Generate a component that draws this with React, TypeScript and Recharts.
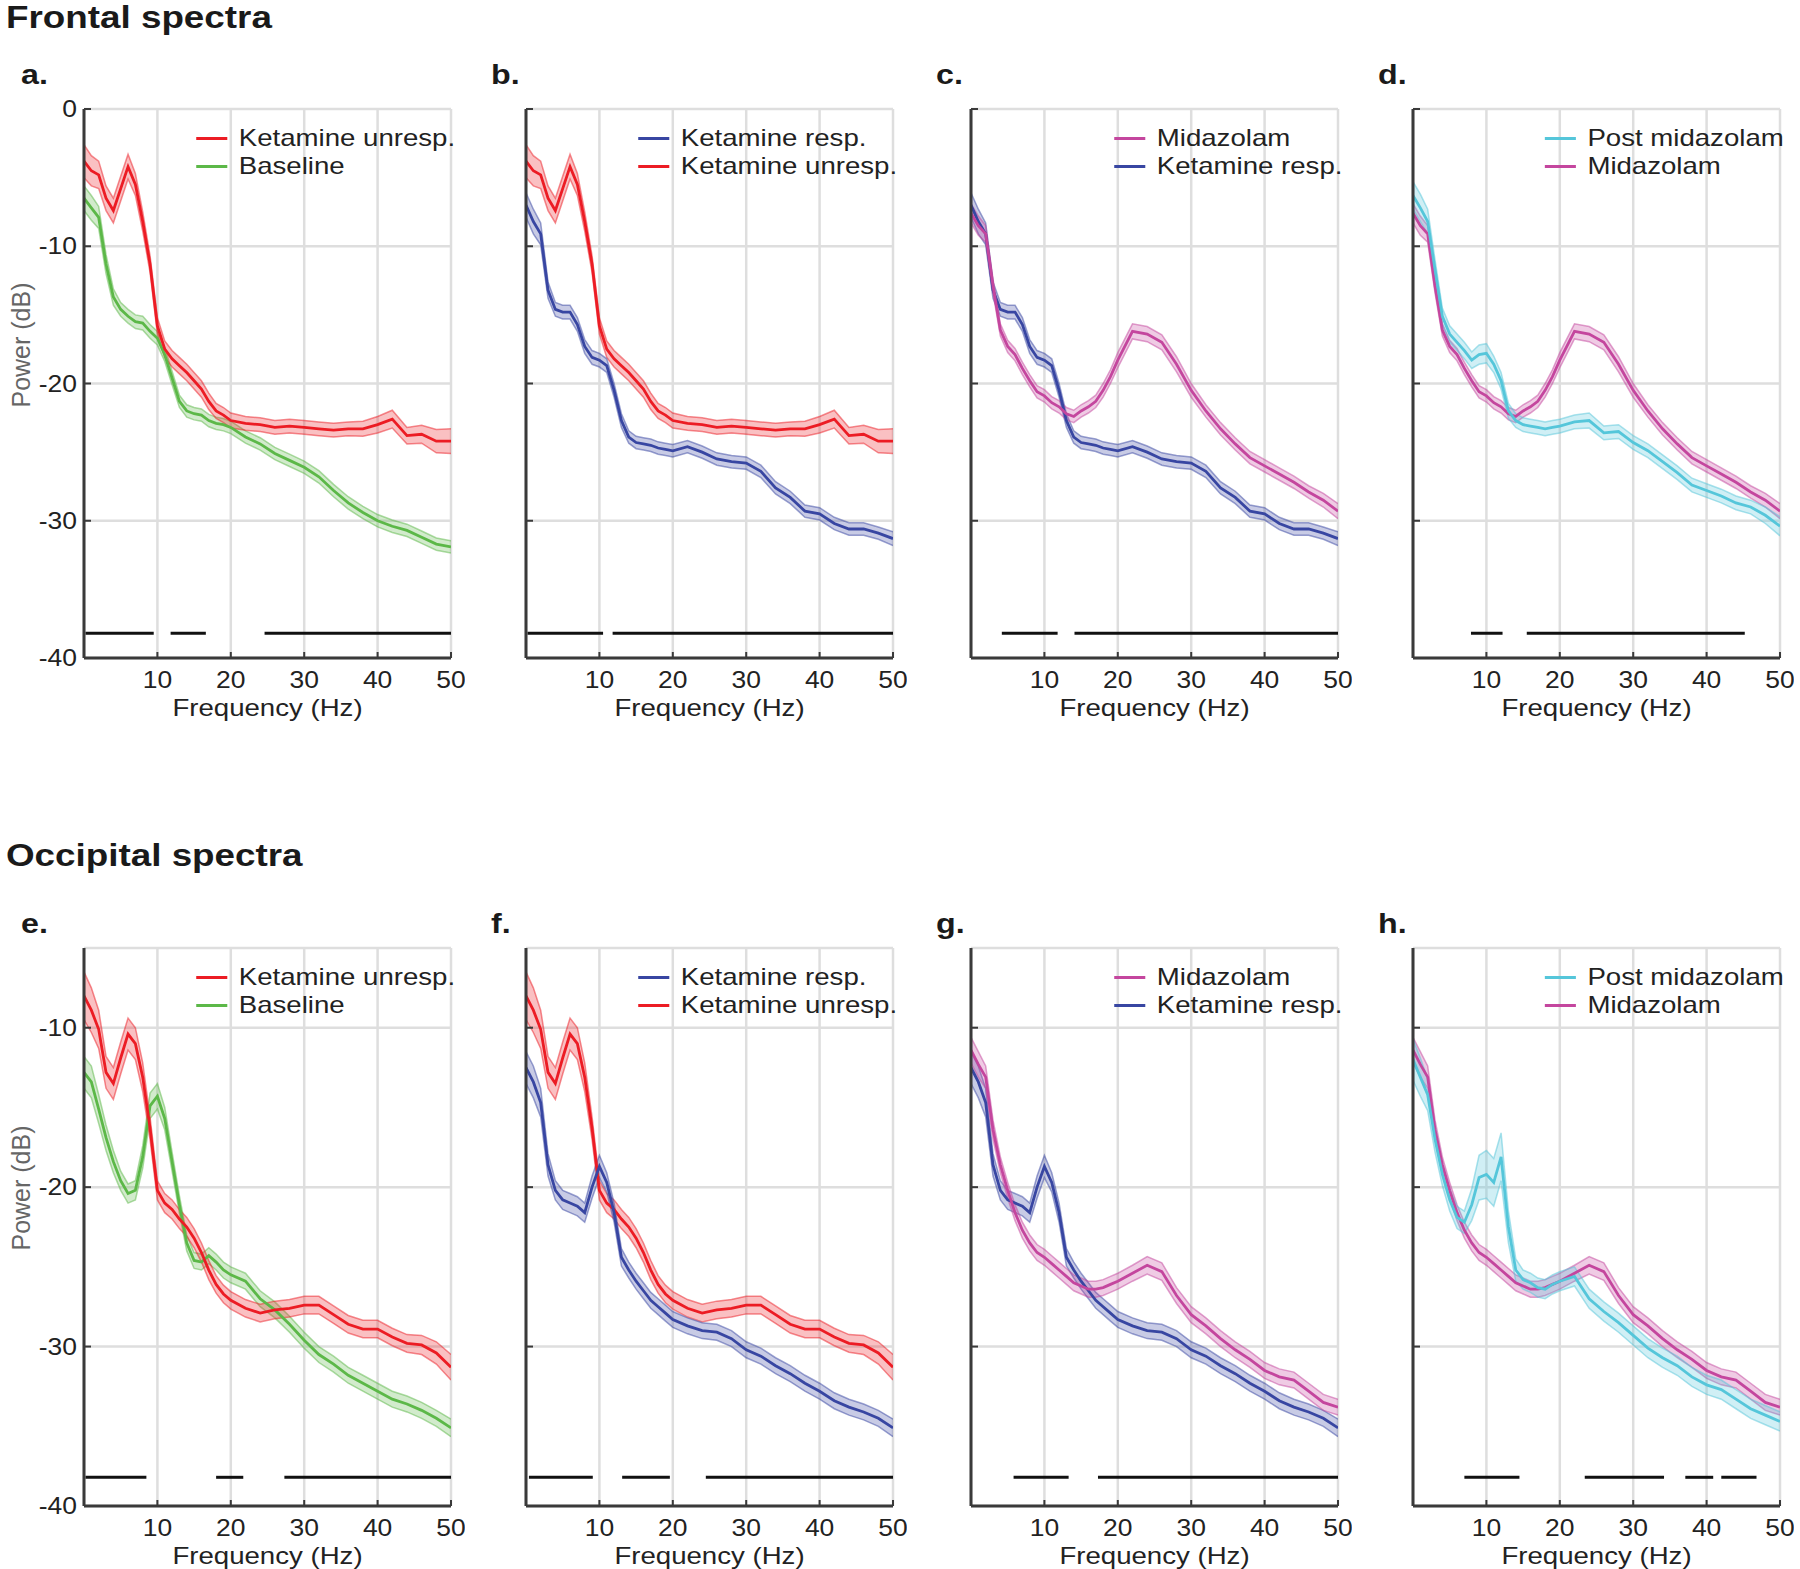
import React from 'react';
import { ComposedChart, Line, Area, XAxis, YAxis, CartesianGrid, ReferenceLine } from 'recharts';

// frequency grid (Hz)
const FREQS = [0, 1, 2, 3, 4, 5, 6, 7, 8, 9, 10, 11, 12, 13, 14, 15, 16, 17, 18, 19, 20,
  22, 24, 26, 28, 30, 32, 34, 36, 38, 40, 42, 44, 46, 48, 50];

// Frontal spectra, mean power (dB)
const FR_KET_UNRESP = [-3.8, -4.5, -4.8, -6.5, -7.4, -5.8, -4.2, -5.5, -8.2, -11.3, -15.8, -17.5, -18.2, -18.7, -19.2, -19.8, -20.4, -21.3, -22.0, -22.3, -22.7,
  -22.9, -23.0, -23.2, -23.1, -23.2, -23.3, -23.4, -23.3, -23.3, -23.0, -22.6, -23.8, -23.7, -24.2, -24.2];
const FR_BASELINE = [-6.5, -7.2, -7.9, -11.3, -13.7, -14.6, -15.1, -15.5, -15.6, -16.2, -16.7, -17.9, -19.6, -21.3, -22.0, -22.2, -22.3, -22.7, -22.9, -23.0, -23.2,
  -23.9, -24.4, -25.1, -25.6, -26.1, -26.8, -27.8, -28.7, -29.4, -30.0, -30.4, -30.7, -31.2, -31.7, -31.9];
const FR_KET_RESP = [-7.0, -8.2, -9.1, -13.2, -14.6, -14.8, -14.8, -15.7, -17.3, -18.1, -18.3, -18.7, -20.5, -22.7, -23.9, -24.3, -24.4, -24.5, -24.7, -24.8, -24.9,
  -24.6, -25.0, -25.5, -25.7, -25.8, -26.4, -27.6, -28.3, -29.3, -29.5, -30.2, -30.6, -30.6, -30.9, -31.3];
const FR_MIDAZ = [-7.6, -8.5, -9.1, -12.9, -16.1, -17.3, -17.9, -18.9, -19.8, -20.6, -20.9, -21.4, -21.7, -22.2, -22.4, -22.0, -21.7, -21.3, -20.5, -19.5, -18.3,
  -16.2, -16.4, -17.0, -18.6, -20.5, -22.0, -23.3, -24.4, -25.4, -26.0, -26.6, -27.2, -27.9, -28.5, -29.3];
const FR_POST_MIDAZ = [-6.3, -7.2, -8.2, -11.7, -15.1, -16.4, -17.0, -17.6, -18.3, -17.9, -17.8, -18.6, -19.8, -22.0, -22.7, -23.0, -23.1, -23.2, -23.3, -23.2, -23.1,
  -22.8, -22.7, -23.6, -23.5, -24.3, -24.9, -25.7, -26.5, -27.4, -27.8, -28.2, -28.7, -29.0, -29.6, -30.4];

// Frontal spectra, SEM (dB)
const FR_KET_UNRESP_SEM = [1.2, 1.1, 1.0, 0.9, 0.9, 0.9, 0.9, 0.8, 0.7, 0.6, 0.6, 0.6, 0.6, 0.6, 0.6, 0.6, 0.6, 0.6, 0.55, 0.55, 0.55,
  0.5, 0.5, 0.5, 0.5, 0.5, 0.5, 0.5, 0.5, 0.55, 0.6, 0.65, 0.6, 0.65, 0.85, 0.9];
const FR_BASELINE_SEM = [0.9, 0.9, 0.8, 0.7, 0.6, 0.5, 0.5, 0.5, 0.5, 0.5, 0.5, 0.5, 0.5, 0.45, 0.45, 0.45, 0.45, 0.45, 0.45, 0.45, 0.45,
  0.45, 0.45, 0.45, 0.45, 0.45, 0.45, 0.45, 0.45, 0.45, 0.45, 0.45, 0.45, 0.45, 0.45, 0.45];
const FR_KET_RESP_SEM = [0.9, 0.9, 0.8, 0.6, 0.5, 0.5, 0.5, 0.5, 0.5, 0.5, 0.5, 0.5, 0.5, 0.5, 0.45, 0.45, 0.45, 0.45, 0.45, 0.45, 0.45,
  0.45, 0.45, 0.45, 0.45, 0.45, 0.45, 0.45, 0.45, 0.45, 0.45, 0.45, 0.45, 0.45, 0.45, 0.5];
const FR_MIDAZ_SEM = [0.7, 0.7, 0.6, 0.5, 0.45, 0.45, 0.45, 0.45, 0.45, 0.45, 0.45, 0.45, 0.45, 0.45, 0.45, 0.45, 0.45, 0.45, 0.5, 0.5, 0.55,
  0.55, 0.55, 0.55, 0.55, 0.5, 0.45, 0.45, 0.45, 0.45, 0.45, 0.45, 0.45, 0.45, 0.5, 0.55];
const FR_POST_MIDAZ_SEM = [1.0, 1.0, 0.9, 0.7, 0.6, 0.6, 0.6, 0.6, 0.6, 0.7, 0.7, 0.6, 0.6, 0.55, 0.5, 0.5, 0.5, 0.5, 0.5, 0.5, 0.5,
  0.5, 0.55, 0.5, 0.5, 0.5, 0.5, 0.5, 0.5, 0.5, 0.5, 0.5, 0.5, 0.5, 0.6, 0.7];

// Occipital spectra, mean power (dB)
const OC_KET_UNRESP = [-8.0, -8.9, -10.1, -12.8, -13.5, -11.9, -10.4, -11.0, -13.1, -16.3, -20.2, -21.0, -21.4, -22.0, -22.5, -23.2, -24.1, -25.2, -26.1, -26.7, -27.1,
  -27.6, -27.9, -27.7, -27.6, -27.4, -27.4, -28.0, -28.6, -28.9, -28.9, -29.4, -29.8, -29.9, -30.4, -31.3];
const OC_BASELINE = [-12.8, -13.4, -15.1, -16.9, -18.4, -19.6, -20.4, -20.2, -18.1, -14.9, -14.3, -15.7, -18.4, -21.1, -23.5, -24.6, -24.7, -24.3, -24.7, -25.2, -25.5,
  -25.9, -27.0, -27.7, -28.6, -29.6, -30.5, -31.1, -31.8, -32.3, -32.8, -33.3, -33.6, -34.0, -34.5, -35.1];
const OC_KET_RESP = [-12.5, -13.4, -14.7, -18.6, -20.2, -20.8, -21.0, -21.2, -21.6, -20.0, -18.7, -19.7, -21.6, -24.4, -25.2, -25.9, -26.5, -27.1, -27.5, -27.9, -28.3,
  -28.7, -29.0, -29.1, -29.5, -30.2, -30.6, -31.2, -31.7, -32.3, -32.8, -33.4, -33.8, -34.1, -34.5, -35.1];
const OC_MIDAZ = [-11.4, -12.3, -13.1, -16.4, -18.6, -20.2, -21.6, -22.7, -23.5, -24.1, -24.4, -24.8, -25.2, -25.6, -26.0, -26.2, -26.4, -26.4, -26.3, -26.1, -25.9,
  -25.4, -24.9, -25.3, -26.8, -28.0, -28.7, -29.5, -30.2, -30.8, -31.5, -31.9, -32.1, -32.8, -33.5, -33.8];
const OC_POST_MIDAZ = [-12.0, -13.1, -14.2, -17.0, -19.2, -20.8, -21.9, -22.2, -21.1, -19.4, -19.2, -19.7, -18.1, -22.5, -25.2, -25.8, -26.0, -26.3, -26.4, -26.1, -25.9,
  -25.6, -27.0, -27.8, -28.5, -29.3, -30.1, -30.7, -31.2, -31.9, -32.4, -32.7, -33.3, -33.9, -34.3, -34.7];

// Occipital spectra, SEM (dB)
const OC_KET_UNRESP_SEM = [1.5, 1.4, 1.2, 1.0, 1.0, 1.0, 1.0, 1.0, 0.9, 0.7, 0.6, 0.6, 0.6, 0.6, 0.6, 0.6, 0.6, 0.6, 0.55, 0.55, 0.55,
  0.55, 0.55, 0.55, 0.55, 0.55, 0.55, 0.55, 0.55, 0.55, 0.55, 0.55, 0.55, 0.6, 0.7, 0.8];
const OC_BASELINE_SEM = [1.0, 1.0, 0.9, 0.8, 0.7, 0.6, 0.6, 0.6, 0.7, 0.8, 0.8, 0.7, 0.6, 0.55, 0.5, 0.5, 0.5, 0.5, 0.5, 0.5, 0.5,
  0.5, 0.5, 0.5, 0.5, 0.5, 0.5, 0.5, 0.5, 0.5, 0.5, 0.5, 0.5, 0.5, 0.5, 0.55];
const OC_KET_RESP_SEM = [1.0, 1.0, 0.9, 0.7, 0.6, 0.6, 0.6, 0.6, 0.6, 0.7, 0.7, 0.6, 0.6, 0.55, 0.5, 0.5, 0.5, 0.5, 0.5, 0.5, 0.5,
  0.5, 0.5, 0.5, 0.5, 0.5, 0.5, 0.5, 0.5, 0.5, 0.5, 0.5, 0.5, 0.5, 0.5, 0.55];
const OC_MIDAZ_SEM = [0.8, 0.8, 0.7, 0.6, 0.5, 0.5, 0.5, 0.5, 0.5, 0.5, 0.5, 0.5, 0.5, 0.5, 0.5, 0.5, 0.5, 0.5, 0.5, 0.5, 0.5,
  0.5, 0.55, 0.55, 0.5, 0.5, 0.5, 0.5, 0.5, 0.5, 0.5, 0.5, 0.5, 0.5, 0.5, 0.5];
const OC_POST_MIDAZ_SEM = [1.3, 1.2, 1.0, 0.8, 0.7, 0.7, 0.7, 0.7, 1.0, 1.4, 1.5, 1.5, 1.5, 1.0, 0.7, 0.6, 0.6, 0.6, 0.6, 0.6, 0.6,
  0.6, 0.6, 0.6, 0.6, 0.6, 0.6, 0.6, 0.6, 0.6, 0.6, 0.6, 0.6, 0.6, 0.6, 0.6];

// significance bars [from Hz, to Hz] per panel
const SIG_A = [[0.2, 9.5], [11.8, 16.6], [24.6, 50]];
const SIG_B = [[0.2, 10.5], [11.8, 50]];
const SIG_C = [[4.2, 11.8], [14.1, 50]];
const SIG_D = [[7.9, 12.2], [15.5, 45.2]];
const SIG_E = [[0.2, 8.5], [18.0, 21.7], [27.3, 50]];
const SIG_F = [[0.4, 9.1], [13.1, 19.6], [24.5, 50]];
const SIG_G = [[5.8, 13.3], [17.3, 50]];
const SIG_H = [[7.0, 14.5], [23.4, 34.2], [37.1, 40.9], [42.0, 46.8]];
const SIG_LEVEL = -38.2;

const X_TICKS = [10, 20, 30, 40, 50];
const Y_TICKS_FRONTAL = [-40, -30, -20, -10, 0];
const Y_TICKS_OCCIPITAL = [-40, -30, -20, -10];

const RED = '#ec1c24';
const GREEN = '#5cb848';
const BLUE = '#3846a2';
const MAGENTA = '#c4469e';
const CYAN = '#55c6da';

type Series = { name: string; color: string; mean: number[]; sem: number[] };

const S = {
  frKU: { name: 'Ketamine unresp.', color: RED, mean: FR_KET_UNRESP, sem: FR_KET_UNRESP_SEM },
  frBL: { name: 'Baseline', color: GREEN, mean: FR_BASELINE, sem: FR_BASELINE_SEM },
  frKR: { name: 'Ketamine resp.', color: BLUE, mean: FR_KET_RESP, sem: FR_KET_RESP_SEM },
  frMZ: { name: 'Midazolam', color: MAGENTA, mean: FR_MIDAZ, sem: FR_MIDAZ_SEM },
  frPM: { name: 'Post midazolam', color: CYAN, mean: FR_POST_MIDAZ, sem: FR_POST_MIDAZ_SEM },
  ocKU: { name: 'Ketamine unresp.', color: RED, mean: OC_KET_UNRESP, sem: OC_KET_UNRESP_SEM },
  ocBL: { name: 'Baseline', color: GREEN, mean: OC_BASELINE, sem: OC_BASELINE_SEM },
  ocKR: { name: 'Ketamine resp.', color: BLUE, mean: OC_KET_RESP, sem: OC_KET_RESP_SEM },
  ocMZ: { name: 'Midazolam', color: MAGENTA, mean: OC_MIDAZ, sem: OC_MIDAZ_SEM },
  ocPM: { name: 'Post midazolam', color: CYAN, mean: OC_POST_MIDAZ, sem: OC_POST_MIDAZ_SEM },
};

const PANELS: { label: string; row: number; col: number; series: Series[]; sig: number[][] }[] = [
  { label: 'a.', row: 0, col: 0, series: [S.frKU, S.frBL], sig: SIG_A },
  { label: 'b.', row: 0, col: 1, series: [S.frKR, S.frKU], sig: SIG_B },
  { label: 'c.', row: 0, col: 2, series: [S.frMZ, S.frKR], sig: SIG_C },
  { label: 'd.', row: 0, col: 3, series: [S.frPM, S.frMZ], sig: SIG_D },
  { label: 'e.', row: 1, col: 0, series: [S.ocKU, S.ocBL], sig: SIG_E },
  { label: 'f.', row: 1, col: 1, series: [S.ocKR, S.ocKU], sig: SIG_F },
  { label: 'g.', row: 1, col: 2, series: [S.ocMZ, S.ocKR], sig: SIG_G },
  { label: 'h.', row: 1, col: 3, series: [S.ocPM, S.ocMZ], sig: SIG_H },
];

// layout
const FONT = '"Liberation Sans", Arial, sans-serif';
const INK = '#222';
const AXIS = '#3a3a3a';
const SX = 1.15; // text in the figure is slightly wide
const COL_LEFT = [84, 526, 971, 1413];
const ROW_TOP = [109, 948];
const PLOT_W = 367;
const PLOT_H = [549, 558];
const Y_W = 60;
const X_H = 60;
const M_TOP = 12;
const M_RIGHT = 14;

const XTick = (props: any) => {
  const { x, y, payload } = props;
  return (
    <g>
      <line x1={x} x2={x} y1={y} y2={y - 6} stroke={AXIS} strokeWidth={2} />
      <text transform={`translate(${x},${y + 30}) scale(${SX},1)`} textAnchor="middle" fontSize={23} fill={INK} fontFamily={FONT}>
        {payload.value}
      </text>
    </g>
  );
};

const YTick = (props: any) => {
  const { x, y, payload, showLabel } = props;
  return (
    <g>
      <line x1={x + 7} x2={x + 14} y1={y} y2={y} stroke={AXIS} strokeWidth={2} />
      {showLabel && (
        <text transform={`translate(${x},${y + 8}) scale(${SX},1)`} textAnchor="end" fontSize={23} fill={INK} fontFamily={FONT}>
          {payload.value}
        </text>
      )}
    </g>
  );
};

function Panel({ p }: { p: (typeof PANELS)[number] }) {
  const plotLeft = COL_LEFT[p.col];
  const plotTop = ROW_TOP[p.row];
  const plotH = PLOT_H[p.row];
  const plotRight = plotLeft + PLOT_W;
  const plotBottom = plotTop + plotH;
  const yTicks = p.row === 0 ? Y_TICKS_FRONTAL : Y_TICKS_OCCIPITAL;
  const yDomain = p.row === 0 ? [-40, 0] : [-40, -5];
  const showY = p.col === 0;

  const rows = FREQS.map((f, i) => {
    const r: any = { f };
    p.series.forEach((s, k) => {
      r['m' + k] = s.mean[i];
      r['b' + k] = [s.mean[i] - s.sem[i], s.mean[i] + s.sem[i]];
    });
    return r;
  });

  // second series underneath, first on top
  const order = p.series.map((s, k) => k).reverse();

  return (
    <>
      <div style={{ position: 'absolute', left: plotLeft - Y_W, top: plotTop - M_TOP }}>
        <ComposedChart
          width={Y_W + PLOT_W + M_RIGHT}
          height={M_TOP + plotH + X_H}
          data={rows}
          margin={{ top: M_TOP, right: M_RIGHT, left: 0, bottom: 0 }}
        >
          <CartesianGrid stroke="#dedede" strokeWidth={2.5} />
          <XAxis
            type="number"
            dataKey="f"
            domain={[0, 50]}
            ticks={X_TICKS}
            allowDataOverflow
            height={X_H}
            tickLine={false}
            tickSize={0}
            tickMargin={0}
            axisLine={{ stroke: AXIS, strokeWidth: 3 }}
            tick={(t: any) => <XTick {...t} />}
          />
          <YAxis
            type="number"
            domain={yDomain}
            ticks={yTicks}
            allowDataOverflow
            width={Y_W}
            tickLine={false}
            tickSize={0}
            tickMargin={7}
            axisLine={{ stroke: AXIS, strokeWidth: 3 }}
            tick={(t: any) => <YTick {...t} showLabel={showY} />}
          />
          {order.map((k) => (
            <Area
              key={'band' + k}
              type="linear"
              dataKey={'b' + k}
              stroke={p.series[k].color}
              strokeOpacity={0.5}
              strokeWidth={1.5}
              fill={p.series[k].color}
              fillOpacity={0.28}
              dot={false}
              activeDot={false}
              isAnimationActive={false}
            />
          ))}
          {order.map((k) => (
            <Line
              key={'line' + k}
              type="linear"
              dataKey={'m' + k}
              stroke={p.series[k].color}
              strokeWidth={2.8}
              dot={false}
              activeDot={false}
              isAnimationActive={false}
            />
          ))}
          {p.sig.map(([a, b], i) => (
            <ReferenceLine
              key={'sig' + i}
              segment={[{ x: a, y: SIG_LEVEL }, { x: b, y: SIG_LEVEL }]}
              stroke="#111"
              strokeWidth={3}
              ifOverflow="visible"
            />
          ))}
        </ComposedChart>
      </div>

      {/* panel letter */}
      <div
        style={{
          position: 'absolute',
          left: p.col === 0 ? 21 : plotLeft - 35,
          top: plotTop - (p.row === 0 ? 50 : 40),
          fontFamily: FONT,
          fontWeight: 'bold',
          fontSize: 28,
          lineHeight: '32px',
          color: '#1a1a1a',
          transform: `scaleX(${SX})`,
          transformOrigin: 'left top',
        }}
      >
        {p.label}
      </div>

      {/* legend */}
      <div
        style={{
          position: 'absolute',
          right: 1800 - (plotRight + 4),
          top: plotTop + 15,
          fontFamily: FONT,
          fontSize: 24,
          color: INK,
          transform: `scaleX(${SX})`,
          transformOrigin: 'right top',
        }}
      >
        {p.series.map((s) => (
          <div key={s.name} style={{ display: 'flex', alignItems: 'center', height: 28 }}>
            <div style={{ width: 27, height: 3, background: s.color, marginRight: 10 }} />
            <span style={{ whiteSpace: 'nowrap', lineHeight: '28px' }}>{s.name}</span>
          </div>
        ))}
      </div>

      {/* x-axis title */}
      <div
        style={{
          position: 'absolute',
          left: plotLeft,
          width: PLOT_W,
          top: plotBottom + 36,
          textAlign: 'center',
          fontFamily: FONT,
          fontSize: 24,
          lineHeight: '28px',
          color: INK,
          transform: `scaleX(${SX})`,
          transformOrigin: 'center top',
        }}
      >
        Frequency (Hz)
      </div>

      {/* y-axis title */}
      {showY && (
        <div
          style={{
            position: 'absolute',
            left: 21,
            top: plotTop + plotH * 0.43,
            fontFamily: FONT,
            fontSize: 25,
            color: '#666',
            whiteSpace: 'nowrap',
            transform: 'translate(-50%, -50%) rotate(-90deg)',
          }}
        >
          Power (dB)
        </div>
      )}
    </>
  );
}

export default function App() {
  const titleStyle: React.CSSProperties = {
    position: 'absolute',
    left: 6,
    fontFamily: FONT,
    fontWeight: 'bold',
    fontSize: 32,
    lineHeight: '34px',
    color: '#1a1a1a',
    whiteSpace: 'nowrap',
    transform: `scaleX(${SX})`,
    transformOrigin: 'left top',
  };
  return (
    <div style={{ position: 'absolute', left: 0, top: 0, width: 1800, height: 1569, background: '#fff', overflow: 'hidden' }}>
      <div style={{ ...titleStyle, top: 0 }}>Frontal spectra</div>
      <div style={{ ...titleStyle, top: 838 }}>Occipital spectra</div>
      {PANELS.map((p) => (
        <Panel key={p.label} p={p} />
      ))}
    </div>
  );
}
